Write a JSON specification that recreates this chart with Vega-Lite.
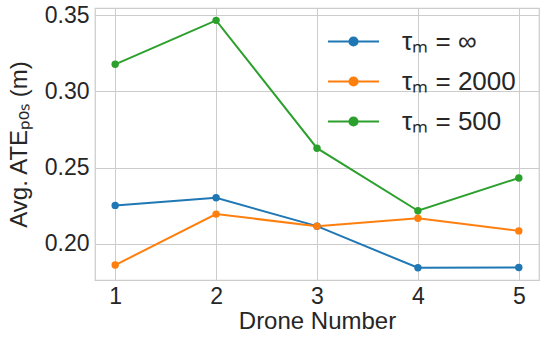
{
  "$schema": "https://vega.github.io/schema/vega-lite/v6.json",
  "width": 444,
  "height": 272,
  "autosize": {"type": "none"},
  "padding": {"left": 95, "top": 8, "right": 8, "bottom": 61},
  "background": "white",
  "data": {
    "values": [
      {"drone": 1, "ate": 0.2252, "series": "τₘ = ∞"},
      {"drone": 2, "ate": 0.2302, "series": "τₘ = ∞"},
      {"drone": 3, "ate": 0.2116, "series": "τₘ = ∞"},
      {"drone": 4, "ate": 0.1843, "series": "τₘ = ∞"},
      {"drone": 5, "ate": 0.1845, "series": "τₘ = ∞"},
      {"drone": 1, "ate": 0.1861, "series": "τₘ = 2000"},
      {"drone": 2, "ate": 0.2195, "series": "τₘ = 2000"},
      {"drone": 3, "ate": 0.2116, "series": "τₘ = 2000"},
      {"drone": 4, "ate": 0.2168, "series": "τₘ = 2000"},
      {"drone": 5, "ate": 0.2085, "series": "τₘ = 2000"},
      {"drone": 1, "ate": 0.3177, "series": "τₘ = 500"},
      {"drone": 2, "ate": 0.3465, "series": "τₘ = 500"},
      {"drone": 3, "ate": 0.2627, "series": "τₘ = 500"},
      {"drone": 4, "ate": 0.2217, "series": "τₘ = 500"},
      {"drone": 5, "ate": 0.2432, "series": "τₘ = 500"}
    ]
  },
  "mark": {
    "type": "line",
    "strokeWidth": 2,
    "point": {"filled": true, "size": 55, "opacity": 1}
  },
  "encoding": {
    "x": {
      "field": "drone",
      "type": "quantitative",
      "scale": {"domain": [0.8, 5.2], "nice": false, "zero": false},
      "axis": {"values": [1, 2, 3, 4, 5], "format": "d", "title": "Drone Number", "titlePadding": 1, "labelPadding": 5}
    },
    "y": {
      "field": "ate",
      "type": "quantitative",
      "scale": {"domain": [0.1763, 0.3546], "nice": false, "zero": false},
      "axis": {"values": [0.2, 0.25, 0.3, 0.35], "format": ".2f", "title": "Avg. ATEₚₒₛ (m)", "titlePadding": 13}
    },
    "color": {
      "field": "series",
      "type": "nominal",
      "sort": ["τₘ = ∞", "τₘ = 2000", "τₘ = 500"],
      "scale": {"domain": ["τₘ = ∞", "τₘ = 2000", "τₘ = 500"], "range": ["#1f77b4", "#ff7f0e", "#2ca02c"]},
      "legend": {
        "title": null,
        "orient": "none",
        "legendX": 232,
        "legendY": 7,
        "symbolType": "M-1,0L1,0M-0.16,0a0.16,0.16 0 1,0 0.32,0a0.16,0.16 0 1,0 -0.32,0",
        "symbolSize": 2601,
        "symbolStrokeWidth": 2,
        "symbolOpacity": 1,
        "labelFont": "Liberation Sans",
        "labelFontSize": 26,
        "labelColor": "#262626",
        "labelOffset": 22,
        "rowPadding": -12.5,
        "labelLimit": 300,
        "encode": {
          "symbols": {"update": {"fill": {"scale": "color", "field": "value"}}}
        }
      }
    }
  },
  "config": {
    "view": {"stroke": "#cccccc", "strokeWidth": 1.25},
    "axis": {
      "labelFont": "Liberation Sans",
      "labelFontSize": 23,
      "labelColor": "#262626",
      "labelPadding": 6,
      "titleFont": "Liberation Sans",
      "titleFontSize": 24,
      "titleFontWeight": "normal",
      "titleColor": "#262626",
      "gridColor": "#cccccc",
      "gridWidth": 1,
      "gridOpacity": 1,
      "domain": false,
      "ticks": false
    }
  }
}
